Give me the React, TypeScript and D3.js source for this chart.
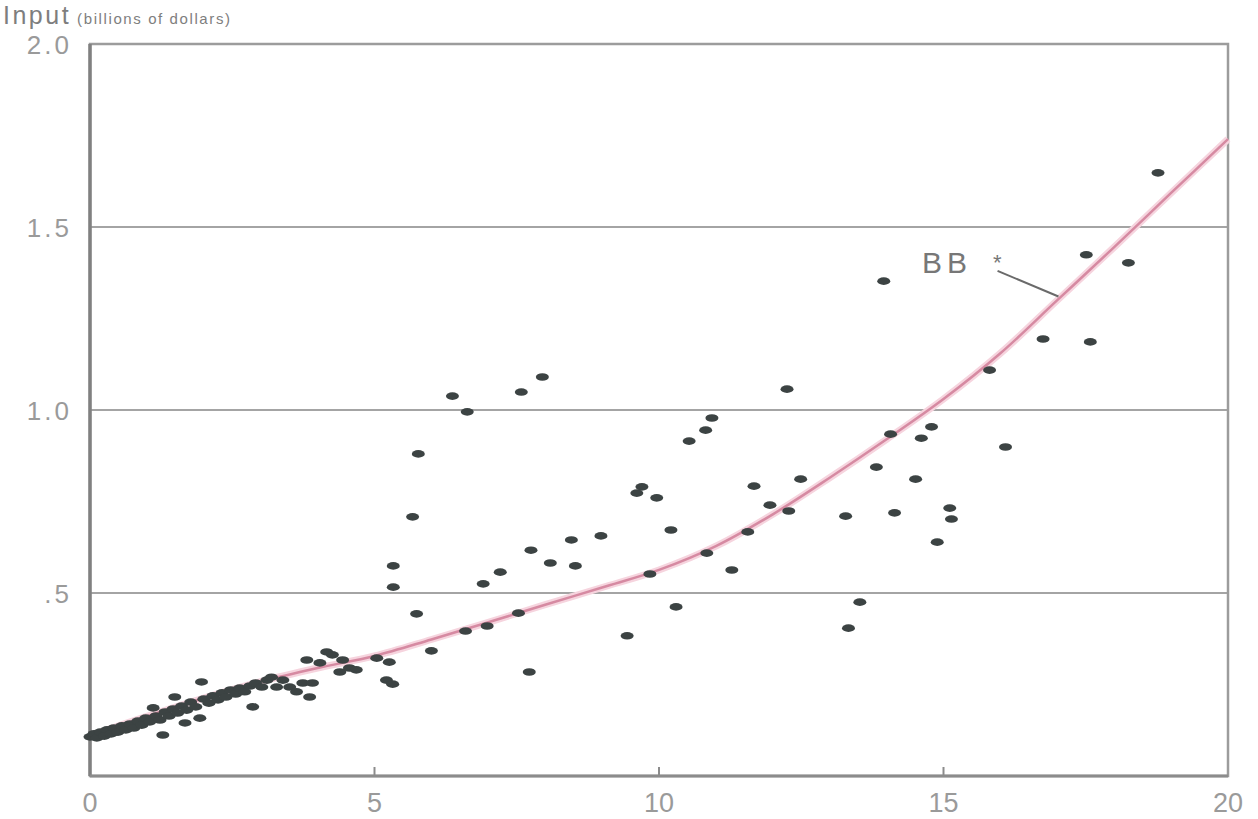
import { useEffect, useRef } from 'react';
import * as d3 from 'd3';

// firms: output (x) vs input (y), billions of dollars
const firmOutput = [
  0.0, 0.07, 0.12, 0.18, 0.25, 0.3, 0.37, 0.42, 0.49, 0.56, 0.63, 0.7, 0.77, 0.84, 0.91, 0.98, 1.05, 1.11,
  1.16, 1.23, 1.28, 1.32, 1.39, 1.46, 1.49, 1.54, 1.61, 1.67, 1.7, 1.77, 1.86, 1.93, 1.96, 2.0, 2.09, 2.16,
  2.25, 2.32, 2.39, 2.47, 2.56, 2.63, 2.72, 2.81, 2.86, 2.91, 3.02, 3.11, 3.19, 3.28, 3.39, 3.51, 3.63, 3.74,
  3.81, 3.86, 3.91, 4.04, 4.16, 4.26, 4.39, 4.44, 4.56, 4.68, 5.04, 5.21, 5.26, 5.32, 6.0,
  18.77, 17.51, 18.25, 13.95, 16.75, 17.58, 15.81, 16.09, 12.25, 7.95, 7.58, 6.37, 6.63, 5.77, 5.67, 5.33,
  5.33, 5.74, 10.93, 10.82, 10.53, 9.7, 9.61, 9.96, 10.21, 8.98, 8.46, 7.75, 8.09, 8.53, 7.21, 6.91, 7.53,
  6.98, 6.6, 7.72, 9.44, 9.84, 10.3, 10.84, 11.28, 11.67, 11.56, 11.95, 12.28, 12.49, 13.82, 14.07, 14.14,
  13.28, 14.51, 14.61, 14.79, 15.11, 15.14, 14.89, 13.53, 13.33,
];
const firmInput = [
  0.107, 0.115, 0.104, 0.12, 0.109, 0.126, 0.115, 0.131, 0.12, 0.137, 0.126, 0.142, 0.131, 0.15, 0.139, 0.158,
  0.148, 0.186, 0.164, 0.153, 0.112, 0.175, 0.164, 0.183, 0.216, 0.172, 0.191, 0.145, 0.18, 0.202, 0.189, 0.158,
  0.257, 0.21, 0.199, 0.219, 0.208, 0.227, 0.216, 0.235, 0.224, 0.24, 0.23, 0.246, 0.189, 0.254, 0.243, 0.262,
  0.27, 0.243, 0.262, 0.243, 0.23, 0.254, 0.317, 0.216, 0.254, 0.309, 0.339, 0.331, 0.284, 0.317, 0.295, 0.29,
  0.322, 0.262, 0.311, 0.251, 0.342,
  1.648, 1.424, 1.402, 1.352, 1.194, 1.186, 1.109, 0.899, 1.057, 1.09, 1.049, 1.038, 0.995, 0.88, 0.708, 0.574,
  0.516, 0.443, 0.978, 0.945, 0.915, 0.79, 0.773, 0.76, 0.672, 0.656, 0.645, 0.617, 0.582, 0.574, 0.557, 0.525,
  0.445, 0.41, 0.396, 0.284, 0.383, 0.552, 0.462, 0.609, 0.563, 0.792, 0.667, 0.74, 0.724, 0.811, 0.844, 0.934,
  0.719, 0.71, 0.811, 0.923, 0.954, 0.732, 0.702, 0.639, 0.475, 0.404,
];

// fitted cost frontier BB*
const bbOutput = [0, 1, 2, 3, 4, 5, 6, 7, 8, 9, 10, 11, 12, 13, 14, 15, 16, 17, 18, 19, 20];
const bbInput = [0.11, 0.163, 0.213, 0.258, 0.295, 0.328, 0.373, 0.42, 0.468, 0.515, 0.563, 0.628, 0.715, 0.815,
  0.92, 1.03, 1.155, 1.3, 1.445, 1.593, 1.74];

const yTicks = [0.5, 1.0, 1.5, 2.0];
const yTickLabels = ['.5', '1.0', '1.5', '2.0'];
const xTicks = [0, 5, 10, 15, 20];

export default function App() {
  const ref = useRef<SVGSVGElement>(null);

  useEffect(() => {
    const width = 1258, height = 819;
    const svg = d3.select(ref.current);
    svg.selectAll('*').remove();
    svg.attr('width', width).attr('height', height);

    const x = d3.scaleLinear().domain([0, 20]).range([90, 1228]);
    const y = d3.scaleLinear().domain([0, 2]).range([776, 44]);
    const font = 'Liberation Sans, Arial, sans-serif';

    svg.append('rect').attr('width', width).attr('height', height).attr('fill', '#fff');

    // grid lines
    svg.append('g')
      .selectAll('line')
      .data(yTicks.slice(0, 3))
      .join('line')
      .attr('x1', x(0)).attr('x2', x(20))
      .attr('y1', d => y(d)).attr('y2', d => y(d))
      .attr('stroke', '#a4a4a4').attr('stroke-width', 2);

    // frame
    svg.append('rect')
      .attr('x', x(0)).attr('y', y(2))
      .attr('width', x(20) - x(0)).attr('height', y(0) - y(2))
      .attr('fill', 'none').attr('stroke', '#9c9c9c').attr('stroke-width', 2.5);
    svg.append('line')
      .attr('x1', x(0)).attr('x2', x(0)).attr('y1', y(2)).attr('y2', y(0))
      .attr('stroke', '#808080').attr('stroke-width', 3.5);
    svg.append('line')
      .attr('x1', x(0)).attr('x2', x(20)).attr('y1', y(0)).attr('y2', y(0))
      .attr('stroke', '#8c8c8c').attr('stroke-width', 3);

    // x tick marks (inside)
    svg.append('g')
      .selectAll('line')
      .data(xTicks.slice(1, 4))
      .join('line')
      .attr('x1', d => x(d)).attr('x2', d => x(d))
      .attr('y1', y(0)).attr('y2', y(0) - 9)
      .attr('stroke', '#8c8c8c').attr('stroke-width', 2);

    // tick labels
    svg.append('g')
      .selectAll('text')
      .data(yTicks)
      .join('text')
      .attr('x', 72).attr('y', d => y(d) + 1)
      .attr('dy', '0.36em')
      .attr('text-anchor', 'end')
      .attr('font-family', font).attr('font-size', 26)
      .attr('letter-spacing', 3)
      .attr('fill', '#9a9a9a')
      .text((d, i) => yTickLabels[i]);

    svg.append('g')
      .selectAll('text')
      .data(xTicks)
      .join('text')
      .attr('x', d => x(d)).attr('y', 812)
      .attr('text-anchor', 'middle')
      .attr('font-family', font).attr('font-size', 27)
      .attr('fill', '#9a9a9a')
      .text(d => d);

    // title
    const title = svg.append('text')
      .attr('x', 3).attr('y', 24)
      .attr('font-family', font).attr('fill', '#7e7e7e');
    title.append('tspan').attr('font-size', 25).attr('letter-spacing', 2.5).text('Input');
    title.append('tspan').attr('font-size', 15).attr('dx', 6).attr('letter-spacing', 1.6)
      .text('(billions of dollars)');

    // BB* curve
    const line = d3.line<number>()
      .x(d => x(d))
      .y((d, i) => y(bbInput[i]))
      .curve(d3.curveCatmullRom);
    svg.append('path')
      .attr('d', line(bbOutput))
      .attr('fill', 'none').attr('stroke', '#f6d4de').attr('stroke-width', 7);
    svg.append('path')
      .attr('d', line(bbOutput))
      .attr('fill', 'none').attr('stroke', '#d68aa2').attr('stroke-width', 2.5);

    // points
    svg.append('g')
      .selectAll('ellipse')
      .data(firmOutput)
      .join('ellipse')
      .attr('cx', d => x(d))
      .attr('cy', (d, i) => y(firmInput[i]))
      .attr('rx', 6.5).attr('ry', 3.8)
      .attr('fill', '#3c4343');

    // label
    svg.append('text')
      .attr('x', 922).attr('y', 273)
      .attr('font-family', font).attr('font-size', 30)
      .attr('letter-spacing', 5)
      .attr('fill', '#777')
      .text('BB');
    svg.append('text')
      .attr('x', 993).attr('y', 270)
      .attr('font-family', font).attr('font-size', 22)
      .attr('fill', '#777')
      .text('*');
    svg.append('line')
      .attr('x1', x(15.95)).attr('y1', y(1.38))
      .attr('x2', x(17.02)).attr('y2', y(1.31))
      .attr('stroke', '#6a6a6a').attr('stroke-width', 2);
  }, []);

  return (
    <div>
      <svg ref={ref} style={{ position: 'absolute', left: 0, top: 0, display: 'block' }}></svg>
    </div>
  );
}
